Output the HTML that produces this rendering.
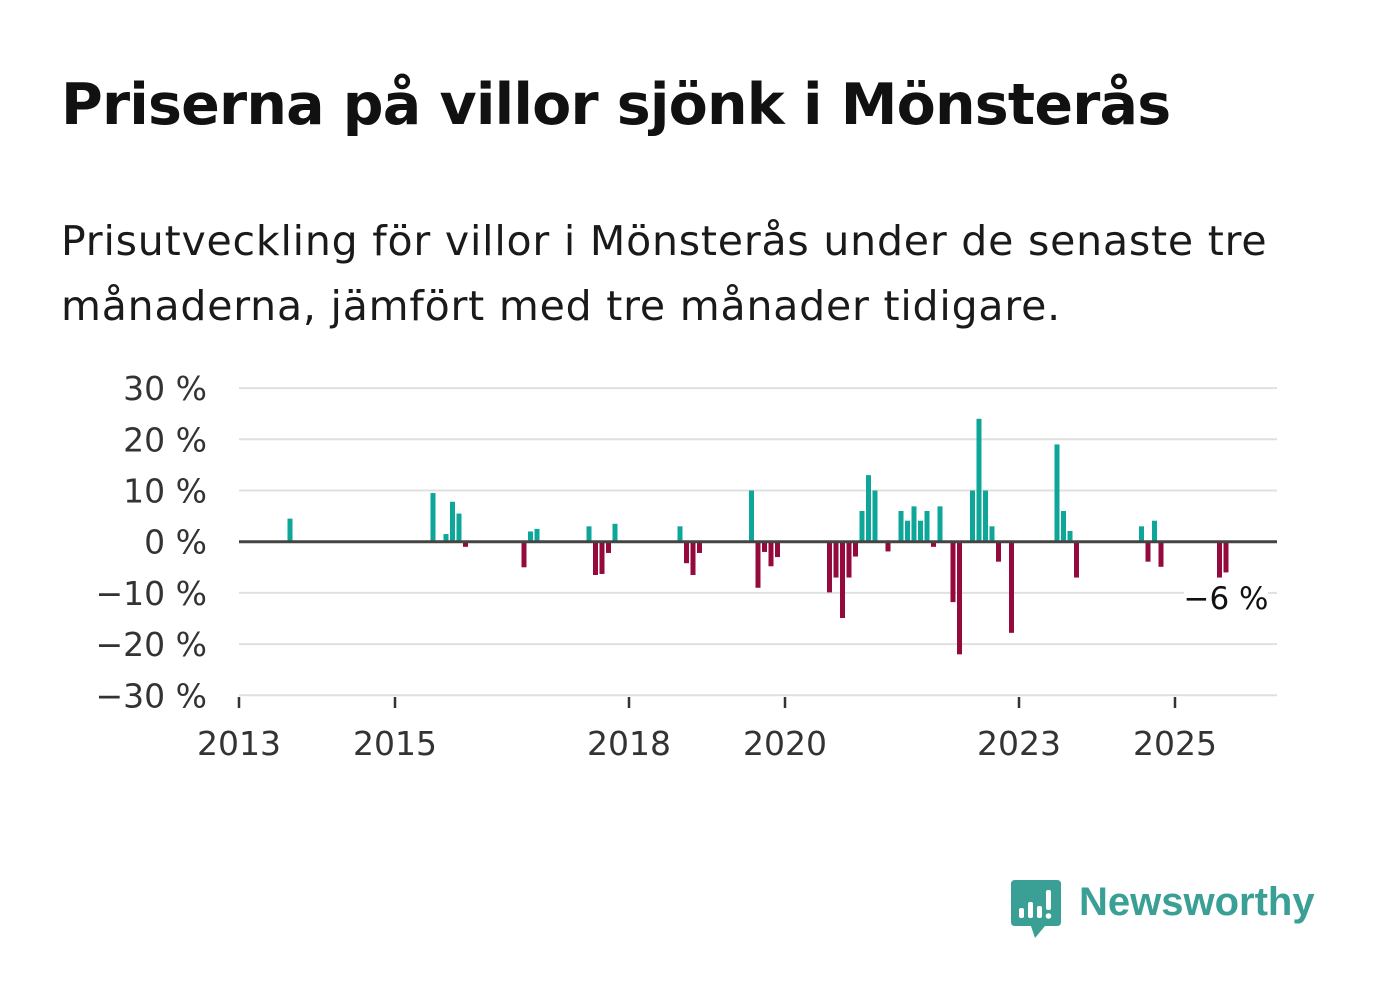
<!DOCTYPE html>
<html><head><meta charset="utf-8"><style>
body{margin:0;width:1382px;height:999px;background:#fff;overflow:hidden;font-family:"Liberation Sans","DejaVu Sans",sans-serif;}
#title{position:absolute;left:61px;top:72px;font-size:57px;font-weight:bold;color:#111;margin:0;letter-spacing:-0.8px;font-family:"DejaVu Sans","Liberation Sans",sans-serif;white-space:nowrap;}
#sub{position:absolute;left:61px;top:209px;font-size:41px;line-height:65px;color:#1a1a1a;width:1300px;margin:0;font-family:"DejaVu Sans","Liberation Sans",sans-serif;letter-spacing:0.8px;}
svg{position:absolute;left:0;top:0;}
</style></head><body>
<h1 id="title">Priserna på villor sjönk i Mönsterås</h1>
<p id="sub">Prisutveckling för villor i Mönsterås under de senaste tre<br>månaderna, jämfört med tre månader tidigare.</p>
<svg id="chart" width="1382" height="999"></svg>
<div style="position:absolute;left:1011px;top:880px;">
<svg width="52" height="60" style="position:absolute;left:0;top:0;">
<path d="M4 0 H46 Q50 0 50 4 V42 Q50 46 46 46 H34 L24 58 L20 46 H4 Q0 46 0 42 V4 Q0 0 4 0Z" fill="#3a9f94"/>
<rect x="8" y="28" width="5" height="10" rx="2" fill="#fff"/><rect x="17" y="22" width="5" height="16" rx="2" fill="#fff"/><rect x="26" y="26" width="5" height="12" rx="2" fill="#fff"/><rect x="35" y="10" width="5" height="20" rx="2" fill="#fff"/><circle cx="37.5" cy="36" r="2.8" fill="#fff"/>
</svg>
<span style="position:absolute;left:68px;top:0px;font-size:40px;font-weight:bold;color:#3a9f94;font-family:'Liberation Sans',sans-serif;white-space:nowrap;">Newsworthy</span>
</div>
<script>
const months=[8,30,32,33,34,35,44,45,46,54,55,56,57,58,68,69,70,71,79,80,81,82,83,91,92,93,94,95,96,97,98,100,102,103,104,105,106,107,108,110,111,113,114,115,116,117,119,126,127,128,129,139,140,141,142,151,152];
const values=[4.5,9.5,1.5,7.8,5.5,-1,-5,2,2.5,3,-6.5,-6.3,-2.2,3.5,3,-4.2,-6.5,-2.2,10,-9,-2,-4.8,-3,-9.9,-7,-14.9,-7,-2.9,6,13,10,-1.9,6,4.1,6.9,4.1,6,-1,6.9,-11.8,-22,10,24,10,3,-3.9,-17.8,19,6,2.1,-7,3,-3.9,4.1,-4.9,-7,-6];
const yTicks=[30,20,10,0,-10,-20,-30];
const yLabels=["30 %","20 %","10 %","0 %","−10 %","−20 %","−30 %"];
const xTickYears=[2013,2015,2018,2020,2023,2025];
const lastLabel="−6 %";
const NS="http://www.w3.org/2000/svg";
const svg=document.getElementById('chart');
const x=m=>239+m*6.5;
const y=v=>541.7-v*5.12;
function mk(t,a){const e=document.createElementNS(NS,t);for(const k in a)e.setAttribute(k,a[k]);svg.appendChild(e);return e;}
yTicks.forEach((v,i)=>{
 if(v!==0){const g=mk('line',{x1:239,x2:1277,y1:y(v),y2:y(v),stroke:'#e0e0e0','stroke-width':2});
 
 }
 const t=mk('text',{x:207,y:y(v)+12,'text-anchor':'end','font-size':33,fill:'#333','font-family':'DejaVu Sans, Liberation Sans, sans-serif'});
 t.textContent=yLabels[i];
 
 
});
xTickYears.forEach(yr=>{
 const xx=x((yr-2013)*12);
 const l=mk('line',{x1:xx,x2:xx,y1:697,y2:708,stroke:'#333','stroke-width':2.5});
 
 
 const t=mk('text',{x:xx,y:755,'text-anchor':'middle','font-size':33,fill:'#333','font-family':'DejaVu Sans, Liberation Sans, sans-serif'});
 t.textContent=yr;
 
 
});
months.forEach((m,i)=>{
 const v=values[i];
 const r=mk('rect',{x:x(m)-3.5,width:5,y:v>=0?y(v):y(0),height:Math.abs(y(v)-y(0)),fill:v>=0?'#0ea699':'#950a3c'});
 
 
});
const z=mk('line',{x1:239,x2:1277,y1:y(0),y2:y(0),stroke:'#444','stroke-width':3});


const lb=mk('rect',{x:1184,y:580,width:84,height:38,fill:'#fff'});


const lt=mk('text',{x:1226,y:609,'text-anchor':'middle','font-size':31,fill:'#111','font-family':'DejaVu Sans, Liberation Sans, sans-serif'});
lt.textContent=lastLabel;


</script>
</body></html>
